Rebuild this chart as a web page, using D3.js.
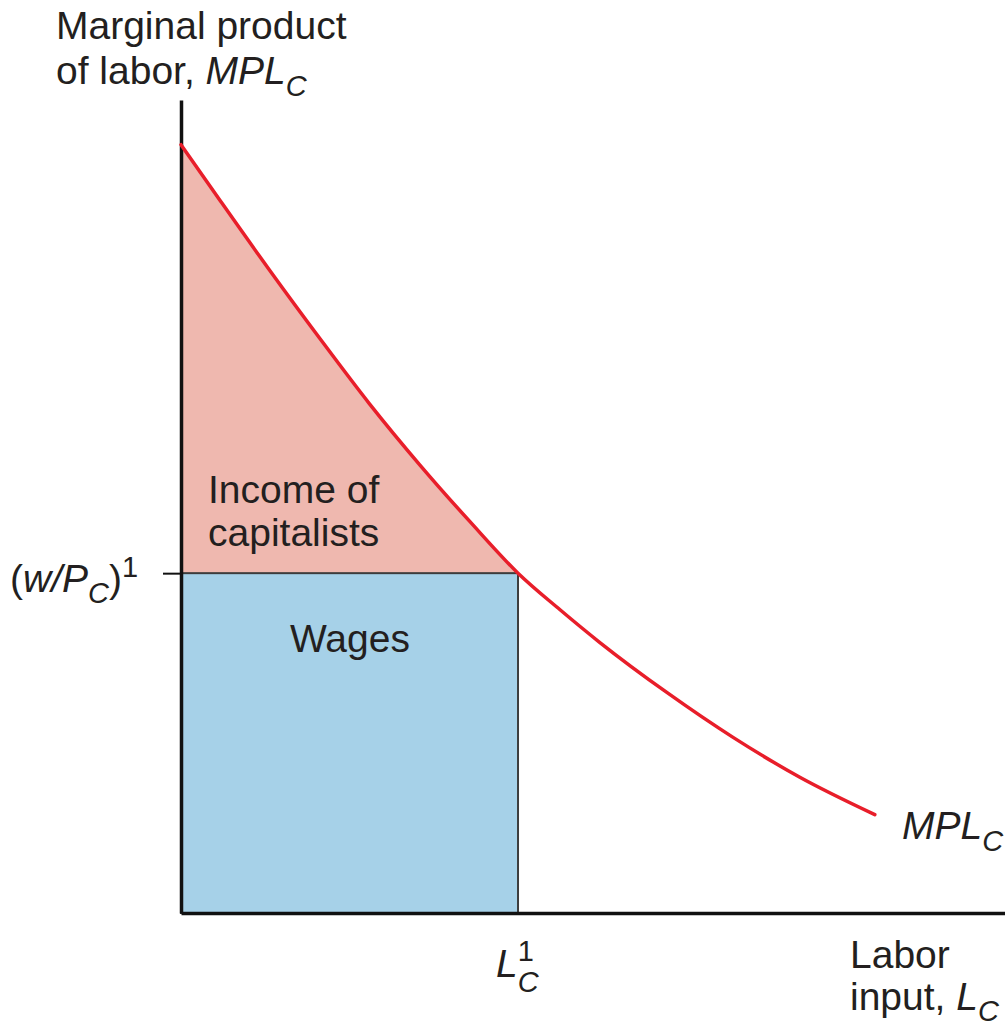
<!DOCTYPE html>
<html>
<head>
<meta charset="utf-8">
<script src="https://cdn.jsdelivr.net/npm/d3@7"></script>
<style>
  body { margin: 0; background: #fff; }
  text { font-family: 'Liberation Sans', Arial, Helvetica, sans-serif; fill: #231f20; }
</style>
</head>
<body>
<div id="chart"></div>
<script>
const WIDTH = 1005;
const HEIGHT = 1027;

// MPL curve (labor input, marginal product)
const laborInput = [0, 0.47, 1.08, 1.69, 2.29, 2.90, 3.51, 4.09, 4.60, 5.08, 5.90, 6.70, 7.51, 8.42];
const mplValues  = [9.45, 8.77, 7.90, 7.06, 6.26, 5.51, 4.81, 4.18, 3.73, 3.33, 2.71, 2.16, 1.67, 1.21];

const wageLevel = 4.18;   // (w/P_C)^1
const laborL1 = 4.09;     // L_C^1
const X_MAX = 10;
const Y_MAX = 10;

const PLOT = {left: 181, right: 1005, top: 100, bottom: 913};

let svg = d3.select('#chart').append('svg')
    .attr('width', WIDTH)
    .attr('height', HEIGHT);

let x = d3.scaleLinear().domain([0, X_MAX]).range([PLOT.left, PLOT.right]);
let y = d3.scaleLinear().domain([0, Y_MAX]).range([PLOT.bottom, PLOT.top]);

let curve = laborInput.map((l, i) => ({l: l, mpl: mplValues[i]}));

// income of capitalists: area between curve and wage, up to L1
let capArea = d3.area()
    .x(d => x(d.l))
    .y0(y(wageLevel))
    .y1(d => y(d.mpl))
    .curve(d3.curveMonotoneX);

svg.append('path')
    .attr('d', capArea(curve.filter(d => d.l <= laborL1)))
    .attr('fill', '#efb8af');

// wages rectangle
svg.append('rect')
    .attr('x', x(0))
    .attr('y', y(wageLevel))
    .attr('width', x(laborL1) - x(0))
    .attr('height', y(0) - y(wageLevel))
    .attr('fill', '#a6d1e8')
    .attr('stroke', '#3c3c3c')
    .attr('stroke-width', 2);

// axes
let yAxis = d3.axisLeft(y).tickValues([wageLevel]).tickFormat('').tickSize(18).tickSizeOuter(0);
let gy = svg.append('g').attr('transform', `translate(${PLOT.left},0)`).call(yAxis);
gy.select('.domain').attr('stroke', '#111').attr('stroke-width', 3.5);
gy.selectAll('.tick line').attr('stroke', '#111').attr('stroke-width', 2);

let xAxis = d3.axisBottom(x).tickValues([]).tickSizeOuter(0);
let gx = svg.append('g').attr('transform', `translate(0,${PLOT.bottom})`).call(xAxis);
gx.select('.domain').attr('stroke', '#111').attr('stroke-width', 3.5);

// MPL curve
let line = d3.line()
    .x(d => x(d.l))
    .y(d => y(d.mpl))
    .curve(d3.curveMonotoneX);

svg.append('path')
    .attr('d', line(curve))
    .attr('fill', 'none')
    .attr('stroke', '#e81e2a')
    .attr('stroke-width', 3.5)
    .attr('stroke-linecap', 'round');

// labels
const FS = 39;
const SUB = 29;

function label(xp, yp) {
    return svg.append('text').attr('x', xp).attr('y', yp).attr('font-size', FS);
}

label(56, 39).text('Marginal product');
let t = label(56, 84);
t.append('tspan').text('of labor, ');
t.append('tspan').attr('font-style', 'italic').text('MPL');
t.append('tspan').attr('font-style', 'italic').attr('font-size', SUB).attr('dy', 12).text('C');

label(208, 503).text('Income of');
label(208, 546).text('capitalists');
label(290, 652).text('Wages');

// (w/P_C)^1
t = label(10, y(wageLevel) + 19);
t.append('tspan').text('(');
t.append('tspan').attr('font-style', 'italic').text('w/P');
t.append('tspan').attr('font-style', 'italic').attr('font-size', SUB).attr('dy', 11).text('C');
t.append('tspan').attr('dy', -11).text(')');
t.append('tspan').attr('font-size', SUB).attr('dy', -15).text('1');

// L_C^1
t = label(x(laborL1) - 22, 977);
t.append('tspan').attr('font-style', 'italic').text('L');
t.append('tspan').attr('font-size', SUB).attr('dy', -16).text('1');
t.append('tspan').attr('font-style', 'italic').attr('font-size', SUB).attr('dx', -16).attr('dy', 31).text('C');

// axis title x
label(850, 968).text('Labor');
t = label(850, 1010);
t.append('tspan').text('input, ');
t.append('tspan').attr('font-style', 'italic').text('L');
t.append('tspan').attr('font-style', 'italic').attr('font-size', SUB).attr('dy', 11).text('C');

// curve label
t = label(902, 839);
t.append('tspan').attr('font-style', 'italic').text('MPL');
t.append('tspan').attr('font-style', 'italic').attr('font-size', SUB).attr('dy', 12).text('C');
</script>
</body>
</html>
